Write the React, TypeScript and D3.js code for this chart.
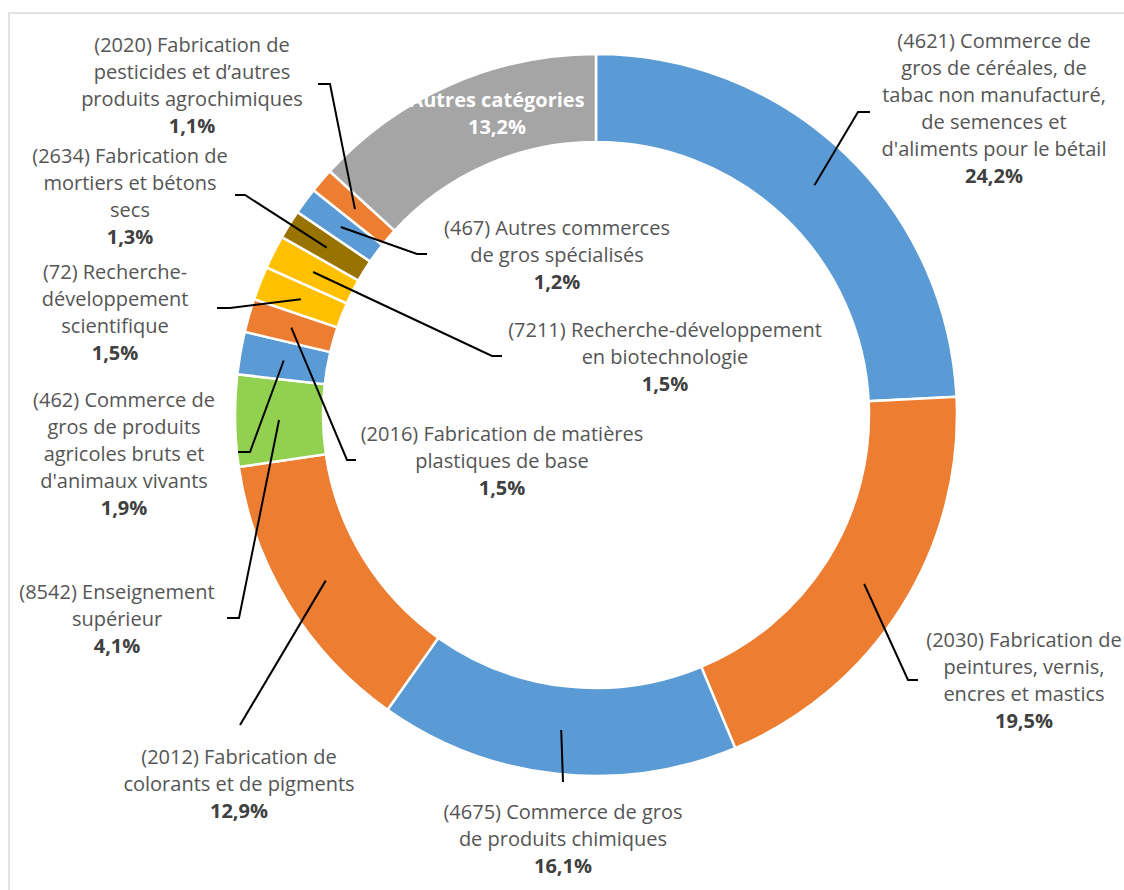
import * as d3 from 'd3';

const W = 1124;
const H = 890;

// slice order: clockwise from 12 o'clock
const codes = ['4621', '2030', '4675', '2012', '8542', '462', '2016', '72', '7211', '2634', '467', '2020', 'autres'];
const names = [
  ['(4621) Commerce de', 'gros de céréales, de', 'tabac non manufacturé,', 'de semences et', "d'aliments pour le bétail"],
  ['(2030) Fabrication de', 'peintures, vernis,', 'encres et mastics'],
  ['(4675) Commerce de gros', 'de produits chimiques'],
  ['(2012) Fabrication de', 'colorants et de pigments'],
  ['(8542) Enseignement', 'supérieur'],
  ['(462) Commerce de', 'gros de produits', 'agricoles bruts et', "d'animaux vivants"],
  ['(2016) Fabrication de matières', 'plastiques de base'],
  ['(72) Recherche-', 'développement', 'scientifique'],
  ['(7211) Recherche-développement', 'en biotechnologie'],
  ['(2634) Fabrication de', 'mortiers et bétons', 'secs'],
  ['(467) Autres commerces', 'de gros spécialisés'],
  ['(2020) Fabrication de', 'pesticides et d’autres', 'produits agrochimiques'],
  ['Autres catégories'],
];
const shares = [24.2, 19.5, 16.1, 12.9, 4.1, 1.9, 1.5, 1.5, 1.5, 1.3, 1.2, 1.1, 13.2];

const colours = ['#5b9bd5', '#ed7d31', '#5b9bd5', '#ed7d31', '#92d050', '#5b9bd5', '#ed7d31', '#ffc000', '#ffc000', '#997300', '#5b9bd5', '#ed7d31', '#a5a5a5'];

// label placement: text centre x, first baseline y, leader elbow and hook end
const layout = [
  { x: 994, y: 48, elbow: [858, 112], hook: 870 },
  { x: 1024, y: 647, elbow: [908, 680], hook: 918 },
  { x: 563, y: 819, elbow: [563, 782], hook: null },
  { x: 239, y: 764, elbow: [240, 725], hook: null },
  { x: 117, y: 599, elbow: [239, 618], hook: 227 },
  { x: 124, y: 407, elbow: [250, 452], hook: 238 },
  { x: 502, y: 441, elbow: [347, 460], hook: 356 },
  { x: 115, y: 279, elbow: [230, 308], hook: 217 },
  { x: 665, y: 337, elbow: [492, 356], hook: 502 },
  { x: 130, y: 163, elbow: [245, 195], hook: 235 },
  { x: 557, y: 235, elbow: [417, 254], hook: 427 },
  { x: 192, y: 52, elbow: [330, 84], hook: 318 },
  { x: 497, y: 107, elbow: null, hook: null },
];

const cx = 596;
const cy = 415;
const outerR = 361;
const innerR = 273;
const lineH = 27;

const fmt = (v: number) => v.toFixed(1).replace('.', ',') + '%';

export default function App() {
  const pie = d3.pie<number>().sort(null).value(d => d);
  const arcs = pie(shares);
  const arc = d3.arc<d3.PieArcDatum<number>>().innerRadius(innerR).outerRadius(outerR);

  return (
    <svg width={W} height={H} style={{ position: 'absolute', left: 0, top: 0, background: '#fff' }}
      fontFamily="'Open Sans', sans-serif" fontSize={20}>
      <rect x={9} y={13} width={1300} height={1000} fill="#fff" stroke="#d9d9d9" strokeWidth={1.5} />
      <g transform={`translate(${cx},${cy})`}>
        {arcs.map((a, i) => (
          <path key={codes[i]} d={arc(a) || ''} fill={colours[i]} stroke="#fff" strokeWidth={2.5} />
        ))}
      </g>
      {arcs.map((a, i) => {
        const L = layout[i];
        if (!L.elbow) return null;
        const [px, py] = arc.centroid(a);
        const pts: [number, number][] = [[cx + px, cy + py], [L.elbow[0], L.elbow[1]]];
        if (L.hook !== null) pts.push([L.hook, L.elbow[1]]);
        return <path key={'l' + i} d={d3.line()(pts) || ''} fill="none" stroke="#000" strokeWidth={2} />;
      })}
      {names.map((lines, i) => {
        const L = layout[i];
        const inside = codes[i] === 'autres';
        return (
          <text key={'t' + i} x={L.x} y={L.y} textAnchor="middle" fill={inside ? '#fff' : '#555'}
            fontWeight={inside ? 'bold' : 'normal'}>
            {lines.map((s, j) => (
              <tspan key={j} x={L.x} y={L.y + j * lineH}>{s}</tspan>
            ))}
            <tspan x={L.x} y={L.y + lines.length * lineH} fontWeight="bold" fill={inside ? '#fff' : '#404040'}>
              {fmt(shares[i])}
            </tspan>
          </text>
        );
      })}
    </svg>
  );
}
